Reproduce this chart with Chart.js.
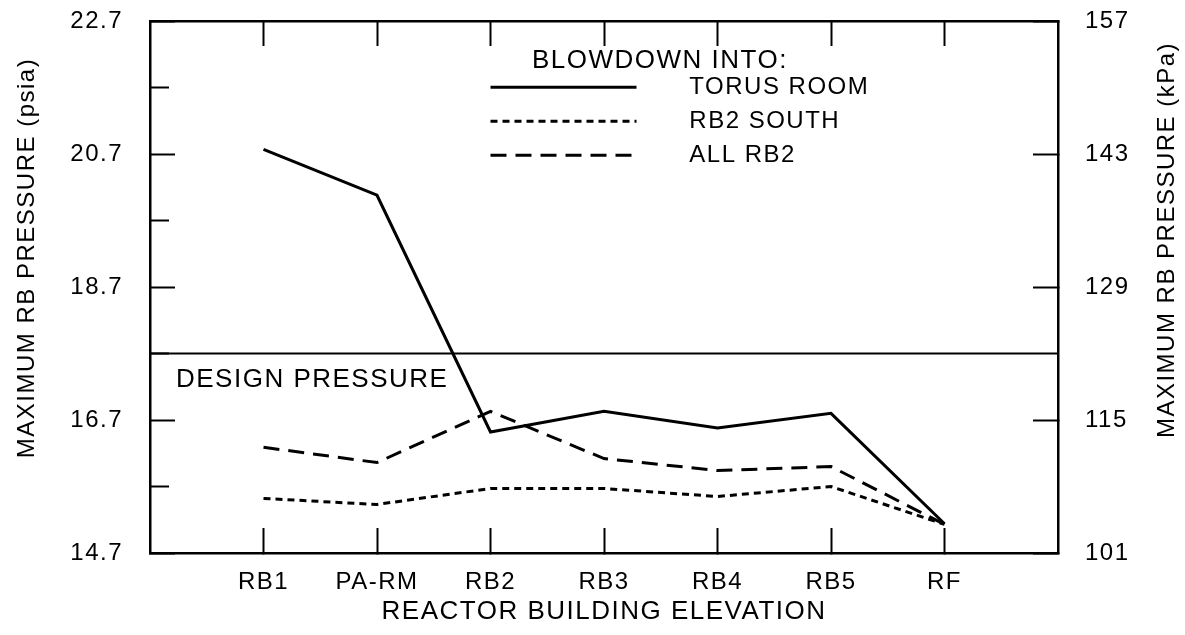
<!DOCTYPE html>
<html>
<head>
<meta charset="utf-8">
<script src="https://cdn.jsdelivr.net/npm/chart.js@4.4.0/dist/chart.umd.min.js"></script>
<style>
  html, body { margin: 0; padding: 0; background: #fff; }
  #wrap { width: 1185px; height: 635px; }
</style>
</head>
<body>
<div id="wrap"><canvas id="myChart"></canvas></div>
<script>
const ctx = document.getElementById('myChart');

// data (psia)
const elevations = ['RB1', 'PA-RM', 'RB2', 'RB3', 'RB4', 'RB5', 'RF'];
const torusRoom = [20.77, 20.08, 16.52, 16.83, 16.58, 16.80, 15.14];
const rb2South = [15.52, 15.43, 15.67, 15.67, 15.55, 15.70, 15.13];
const allRb2 = [16.29, 16.06, 16.83, 16.12, 15.94, 16.00, 15.13];
const designPressure = 17.7;

// axis ticks
const psiMajor = [14.7, 16.7, 18.7, 20.7, 22.7];
const psiMinor = [15.7, 17.7, 19.7, 21.7];
const kpaTicks = [101, 115, 129, 143, 157];

const ink = '#000';
const fontFamily = '"Liberation Sans", Arial, Helvetica, sans-serif';
Chart.defaults.font.family = fontFamily;
Chart.defaults.color = ink;

const toPoints = values => values.map((v, i) => ({x: i + 1, y: v}));
const setTicks = list => scale => { scale.ticks = list.map(v => ({value: v})); };
// fixed box sizes so the plot frame lands where the scan has it
const fixSize = (w, h) => s => {
    if (w !== null) s.width = w;
    if (h !== null) s.height = h;
    s.paddingTop = s.paddingBottom = s.paddingLeft = s.paddingRight = 0;
};

// scanned lettering is spaced out a bit
const spacing = {
    id: 'spacing',
    beforeUpdate(chart) { chart.ctx.letterSpacing = '1.5px'; },
    beforeDraw(chart) { chart.ctx.letterSpacing = '1.5px'; }
};

// legend sits inside the plot box, under the top ticks
const legendPlacement = {
    id: 'legendPlacement',
    beforeDraw(chart) {
        const lg = chart.legend;
        const {top, right} = chart.chartArea;
        lg.left = chart.scales.x.getPixelForValue(3) - 10;
        lg.width = 2 * (660 - lg.left);   // title is centred on this width
        lg.right = right;                 // clip box wide enough for the labels
        lg.top = top;
        lg.height = 200;
        lg.bottom = top + lg.height;
    }
};

const extraText = {
    id: 'extraText',
    afterDraw(chart) {
        const {ctx, scales: {x, y}} = chart;
        ctx.save();
        ctx.fillStyle = ink;
        ctx.font = '26px ' + fontFamily;
        ctx.textBaseline = 'middle';
        ctx.textAlign = 'left';
        ctx.fillText('DESIGN PRESSURE', x.getPixelForValue(0) + 26, y.getPixelForValue(designPressure) + 26);
        ctx.font = '24px ' + fontFamily;
        ctx.textAlign = 'center';
        const titles = [['MAXIMUM RB PRESSURE (psia)', 27, 258], ['MAXIMUM RB PRESSURE (kPa)', 1167, 240]];
        titles.forEach(([text, tx, ty]) => {
            ctx.save();
            ctx.translate(tx, ty);
            ctx.rotate(-Math.PI / 2);
            ctx.fillText(text, 0, 0);
            ctx.restore();
        });
        ctx.restore();
    }
};

const lineStyle = {
    borderColor: ink,
    backgroundColor: ink,
    borderWidth: 3,
    pointRadius: 0,
    tension: 0,
    fill: false
};

const datasets = [
    {label: 'TORUS ROOM', data: toPoints(torusRoom), ...lineStyle, borderDash: []},
    {label: 'RB2 SOUTH', data: toPoints(rb2South), ...lineStyle, borderDash: [7, 5]},
    {label: 'ALL RB2', data: toPoints(allRb2), ...lineStyle, borderDash: [16, 9]},
    {label: 'design', data: [{x: 0, y: designPressure}, {x: elevations.length + 1, y: designPressure}],
        ...lineStyle, borderWidth: 2}
];

const tickGrid = len => ({
    drawOnChartArea: false,
    drawTicks: true,
    tickLength: -len,
    color: ink,
    tickColor: ink,
    tickWidth: 2
});
const frame = {display: true, color: ink, width: 2.5};

const options = {
    responsive: true,
    maintainAspectRatio: false,
    animation: false,
    layout: {padding: 0},
    plugins: {
        tooltip: {enabled: false},
        legend: {
            position: 'chartArea',
            fullSize: false,
            align: 'start',
            title: {
                display: true,
                text: 'BLOWDOWN INTO:',
                color: ink,
                font: {size: 26},
                padding: {top: 27, bottom: -14}
            },
            labels: {
                color: ink,
                font: {size: 24},
                usePointStyle: true,
                pointStyle: 'line',
                pointStyleWidth: 146,
                padding: 10,
                generateLabels: chart => chart.data.datasets.slice(0, 3).map((ds, i) => ({
                    text: '     ' + ds.label,
                    datasetIndex: i,
                    fillStyle: ds.borderColor,
                    strokeStyle: ds.borderColor,
                    fontColor: ink,
                    lineWidth: ds.borderWidth,
                    lineDash: ds.borderDash,
                    lineCap: 'butt',
                    pointStyle: 'line',
                    hidden: false
                }))
            }
        }
    },
    scales: {
        x: {
            type: 'linear', position: 'bottom', min: 0, max: elevations.length + 1,
            afterBuildTicks: setTicks(elevations.map((e, i) => i + 1)),
            afterFit: fixSize(null, 82),
            border: frame,
            grid: tickGrid(25),
            ticks: {padding: 40, font: {size: 24}, maxRotation: 0, autoSkip: false,
                callback: v => elevations[v - 1]},
            title: {display: true, text: 'REACTOR BUILDING ELEVATION', font: {size: 26}, padding: {bottom: 8}}
        },
        xTop: {
            type: 'linear', axis: 'x', position: 'top', min: 0, max: elevations.length + 1,
            afterBuildTicks: setTicks(elevations.map((e, i) => i + 1)),
            afterFit: fixSize(null, 21),
            border: frame,
            grid: tickGrid(25),
            ticks: {display: false}
        },
        y: {
            type: 'linear', position: 'left', min: 14.7, max: 22.7, weight: 2,
            afterBuildTicks: setTicks(psiMajor),
            afterFit: fixSize(150, null),
            border: frame,
            grid: tickGrid(25),
            ticks: {padding: 52, font: {size: 24}, callback: v => v.toFixed(1)}
        },
        yMinor: {
            type: 'linear', axis: 'y', position: 'left', min: 14.7, max: 22.7, weight: 1,
            afterBuildTicks: setTicks(psiMinor),
            afterFit: fixSize(0, null),
            border: {display: false},
            grid: tickGrid(19),
            ticks: {display: false}
        },
        yKpa: {
            type: 'linear', axis: 'y', position: 'right', min: 101, max: 157,
            afterBuildTicks: setTicks(kpaTicks),
            afterFit: fixSize(127, null),
            border: frame,
            grid: tickGrid(25),
            ticks: {padding: 52, font: {size: 24}, callback: v => String(v)}
        }
    }
};

const chart = new Chart(ctx, {
    type: 'line',
    data: {datasets},
    options: options,
    plugins: [spacing, legendPlacement, extraText]
});
</script>
</body>
</html>
